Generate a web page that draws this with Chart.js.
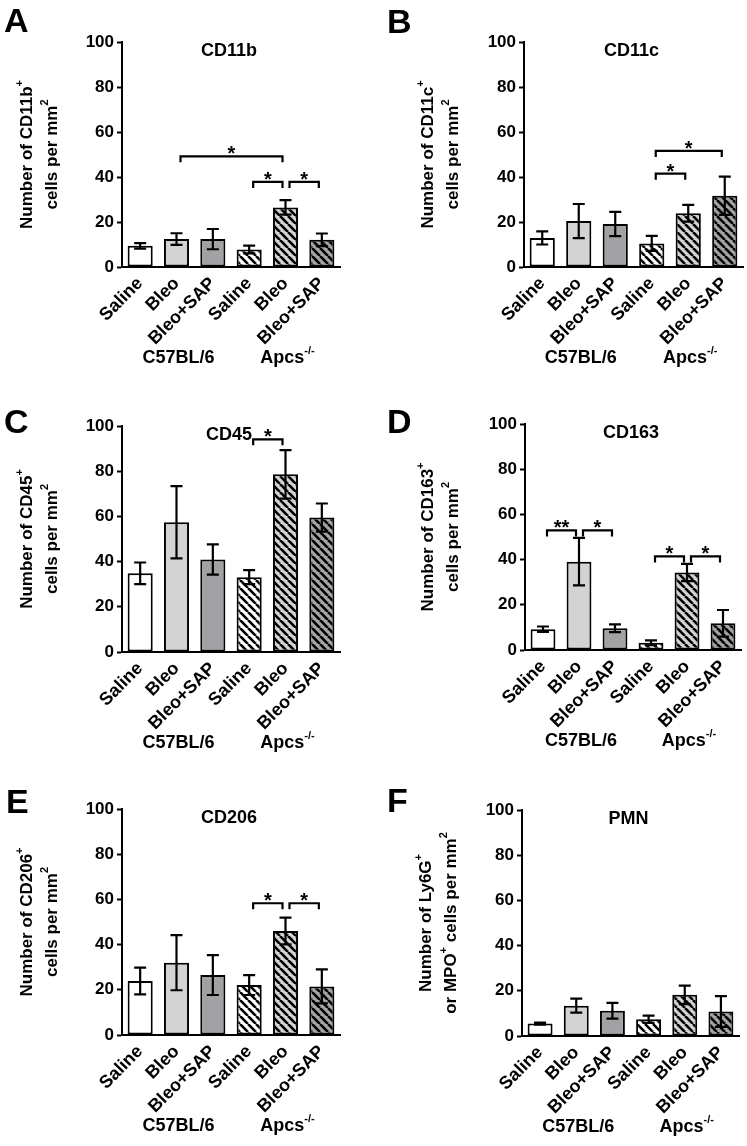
<!DOCTYPE html>
<html><head><meta charset="utf-8">
<script src="https://cdn.jsdelivr.net/npm/chart.js@4.4.1/dist/chart.umd.min.js"></script>
<style>
html,body{margin:0;padding:0;background:#fff;}
#wrap{position:relative;width:747px;height:1146px;overflow:hidden;background:#fff;}
canvas{position:absolute;}
</style></head><body><div id="wrap"></div>
<script>
// ---------- data ----------
const categories = ['Saline', 'Bleo', 'Bleo+SAP', 'Saline', 'Bleo', 'Bleo+SAP'];
const groupLabels = ['C57BL/6', 'Apcs'];
const groupSup = ['', '-/-'];
const yTicks = [0, 20, 40, 60, 80, 100];

const cd11bMean = [9.4, 12.4, 12.4, 7.8, 26.5, 12.1];
const cd11bSem  = [1.2, 2.6, 4.5, 1.7, 3.2, 2.8];
const cd11bSig  = [[1, 4, 49.2, '*'], [3, 4, 37.8, '*'], [4, 5, 37.8, '*']];

const cd11cMean = [12.9, 20.4, 19.1, 10.5, 23.9, 31.7];
const cd11cSem  = [2.9, 7.6, 5.4, 3.3, 3.7, 8.5];
const cd11cSig  = [[3, 5, 51.6, '*'], [3, 4, 41.5, '*']];

const cd45Mean = [34.8, 57.4, 40.9, 33.1, 78.6, 59.5];
const cd45Sem  = [4.8, 16.0, 6.7, 3.1, 10.7, 6.2];
const cd45Sig  = [[3, 4, 94.1, '*']];

const cd163Mean = [9.2, 39.1, 9.6, 3.2, 34.3, 11.8];
const cd163Sem  = [1.2, 10.5, 1.7, 1.1, 3.8, 5.9];
const cd163Sig  = [[0, 1, 52.9, '**'], [1, 2, 52.9, '*'], [3, 4, 41.4, '*'], [4, 5, 41.4, '*']];

const cd206Mean = [23.9, 32.0, 26.5, 22.1, 46.0, 21.5];
const cd206Sem  = [5.9, 12.2, 8.8, 4.4, 5.9, 7.5];
const cd206Sig  = [[3, 4, 58.3, '*'], [4, 5, 58.3, '*']];

const pmnMean = [5.5, 13.4, 11.2, 7.4, 18.2, 10.8];
const pmnSem  = [0.45, 3.1, 3.5, 1.6, 4.1, 6.8];
const pmnSig  = [];

// ---------- styling ----------
const FONT = '"Liberation Sans", Arial, Helvetica, sans-serif';
Chart.defaults.font.family = FONT;
Chart.defaults.color = '#000';

function hatch(bg) {
  const s = 8;
  const c = document.createElement('canvas');
  c.width = s; c.height = s;
  const g = c.getContext('2d');
  g.fillStyle = bg; g.fillRect(0, 0, s, s);
  g.strokeStyle = '#000'; g.lineWidth = 2.6;
  for (const k of [-1, 0, 1]) {
    g.beginPath(); g.moveTo(k * s, 0); g.lineTo(k * s + s, s); g.stroke();
  }
  return g.createPattern(c, 'repeat');
}
const fills = ['#ffffff', '#d3d3d3', '#a2a2a4', hatch('#ffffff'), hatch('#d3d3d3'), hatch('#a2a2a4')];

const panels = [
  {letter: 'A', title: 'CD11b', mean: cd11bMean, sem: cd11bSem, sig: cd11bSig,
   yTitle: [[['Number of CD11b', 0], ['+', 1]], [['cells per mm', 0], ['2', 1]]],
   box: [0, 0, 373, 380], plot: {left: 122, top: 42, bottom: 267, right: 340}, ytx: [27, 52], lp: [4, 32]},
  {letter: 'B', title: 'CD11c', mean: cd11cMean, sem: cd11cSem, sig: cd11cSig,
   yTitle: [[['Number of CD11c', 0], ['+', 1]], [['cells per mm', 0], ['2', 1]]],
   box: [373, 0, 374, 380], plot: {left: 151, top: 42, bottom: 267, right: 370}, ytx: [55, 80], lp: [14, 33]},
  {letter: 'C', title: 'CD45', mean: cd45Mean, sem: cd45Sem, sig: cd45Sig,
   yTitle: [[['Number of CD45', 0], ['+', 1]], [['cells per mm', 0], ['2', 1]]],
   box: [0, 380, 373, 380], plot: {left: 122, top: 46, bottom: 272, right: 340}, ytx: [27, 52], lp: [4, 53]},
  {letter: 'D', title: 'CD163', mean: cd163Mean, sem: cd163Sem, sig: cd163Sig,
   yTitle: [[['Number of CD163', 0], ['+', 1]], [['cells per mm', 0], ['2', 1]]],
   box: [373, 380, 374, 380], plot: {left: 152, top: 44, bottom: 270, right: 368}, ytx: [55, 80], lp: [14, 53]},
  {letter: 'E', title: 'CD206', mean: cd206Mean, sem: cd206Sem, sig: cd206Sig,
   yTitle: [[['Number of CD206', 0], ['+', 1]], [['cells per mm', 0], ['2', 1]]],
   box: [0, 760, 373, 386], plot: {left: 122, top: 49, bottom: 275, right: 340}, ytx: [27, 52], lp: [6, 53]},
  {letter: 'F', title: 'PMN', mean: pmnMean, sem: pmnSem, sig: pmnSig,
   yTitle: [[['Number of Ly6G', 0], ['+', 1]], [['or MPO', 0], ['+', 1], [' cells per mm', 0], ['2', 1]]],
   box: [373, 760, 374, 386], plot: {left: 149, top: 50, bottom: 276, right: 366}, ytx: [53, 78], lp: [14, 52]}
];

function richWidth(ctx, segs, size, supSize) {
  let w = 0;
  for (const [t, s] of segs) { ctx.font = 'bold ' + (s ? supSize : size) + 'px ' + FONT; w += ctx.measureText(t).width; }
  return w;
}
function drawRich(ctx, segs, cx, y, size, supSize, raise) {
  const w = richWidth(ctx, segs, size, supSize);
  let x = cx - w / 2;
  ctx.textAlign = 'left';
  for (const [t, s] of segs) {
    ctx.font = 'bold ' + (s ? supSize : size) + 'px ' + FONT;
    ctx.fillText(t, x, s ? y - raise : y);
    x += ctx.measureText(t).width;
  }
}

function decor(p) {
  return {
    id: 'decor' + p.letter,
    afterDatasetsDraw(chart) {
      const ctx = chart.ctx, ys = chart.scales.y;
      const meta = chart.getDatasetMeta(0);
      ctx.save();
      ctx.strokeStyle = '#000'; ctx.lineWidth = 2.2; ctx.lineCap = 'butt';
      p.mean.forEach((m, i) => {
        const x = meta.data[i].x;
        const yHi = ys.getPixelForValue(m + p.sem[i]);
        const yLo = ys.getPixelForValue(m - p.sem[i]);
        ctx.beginPath();
        ctx.moveTo(x, yHi); ctx.lineTo(x, yLo);
        ctx.moveTo(x - 6, yHi); ctx.lineTo(x + 6, yHi);
        ctx.moveTo(x - 6, yLo); ctx.lineTo(x + 6, yLo);
        ctx.stroke();
      });
      ctx.restore();
    },
    afterDraw(chart) {
      const ctx = chart.ctx, xs = chart.scales.x, ys = chart.scales.y, ca = chart.chartArea;
      ctx.save();
      ctx.fillStyle = '#000'; ctx.strokeStyle = '#000'; ctx.lineWidth = 2.2;
      // significance brackets
      for (const [a, b, v, lab] of p.sig) {
        const xa = xs.getPixelForValue(a) + 4, xb = xs.getPixelForValue(b) - 3;
        const y = ys.getPixelForValue(v);
        ctx.beginPath();
        ctx.moveTo(xa, y + 6); ctx.lineTo(xa, y); ctx.lineTo(xb, y); ctx.lineTo(xb, y + 6);
        ctx.stroke();
        ctx.font = 'bold 20px ' + FONT; ctx.textAlign = 'center'; ctx.textBaseline = 'alphabetic';
        ctx.fillText(lab, (xa + xb) / 2, y + 4);
      }
      // panel title
      ctx.font = 'bold 18px ' + FONT; ctx.textAlign = 'center'; ctx.textBaseline = 'middle';
      ctx.fillText(p.title, (ca.left + ca.right) / 2 - 2, ca.top + 9);
      // group labels
      ctx.textBaseline = 'middle';
      for (let g = 0; g < 2; g++) {
        const cx = (xs.getPixelForValue(g * 3) + xs.getPixelForValue(g * 3 + 2)) / 2;
        const segs = [[groupLabels[g], 0]];
        if (groupSup[g]) segs.push([groupSup[g], 1]);
        drawRich(ctx, segs, cx + 2, ca.bottom + 91, 18, 11, 7);
      }
      // y-axis title
      const cy = (ca.top + ca.bottom) / 2;
      p.yTitle.forEach((segs, li) => {
        ctx.save();
        ctx.translate(p.ytx[li], cy);
        ctx.rotate(-Math.PI / 2);
        ctx.textBaseline = 'middle';
        drawRich(ctx, segs, 0, 0, 17, 11, 7);
        ctx.restore();
      });
      // panel letter
      ctx.font = 'bold 34px ' + FONT; ctx.textAlign = 'left'; ctx.textBaseline = 'alphabetic';
      ctx.fillText(p.letter, p.lp[0], p.lp[1]);
      ctx.restore();
    }
  };
}

const wrap = document.getElementById('wrap');
panels.forEach(p => {
  const [L, T, W, H] = p.box;
  const c = document.createElement('canvas');
  c.width = W; c.height = H;
  c.style.left = L + 'px'; c.style.top = T + 'px';
  c.style.width = W + 'px'; c.style.height = H + 'px';
  wrap.appendChild(c);
  new Chart(c, {
    type: 'bar',
    data: {
      labels: categories,
      datasets: [{
        data: p.mean, backgroundColor: fills, borderColor: '#000', borderWidth: 2,
        borderSkipped: false, barPercentage: 0.69, categoryPercentage: 1
      }]
    },
    options: {
      responsive: false, animation: false, devicePixelRatio: 1,
      layout: {padding: {left: 0, top: p.plot.top, right: W - p.plot.right, bottom: 0}},
      plugins: {legend: {display: false}, tooltip: {enabled: false}, title: {display: false}},
      scales: {
        x: {
          type: 'category', offset: true,
          grid: {display: false, drawTicks: false},
          border: {display: true, color: '#000', width: 2},
          ticks: {autoSkip: false, maxRotation: 45, minRotation: 45, padding: 6, color: '#000',
                  font: {size: 18, weight: 'bold', family: FONT}},
          afterFit(s) { s.height = H - p.plot.bottom; }
        },
        y: {
          min: 0, max: 100,
          afterBuildTicks(s) { s.ticks = yTicks.map(v => ({value: v})); },
          ticks: {color: '#000', padding: 3, font: {size: 17, weight: 'bold', family: FONT}},
          grid: {display: true, drawOnChartArea: false, drawTicks: true, tickLength: 5, tickWidth: 2, tickColor: '#000'},
          border: {display: true, color: '#000', width: 2},
          afterFit(s) { s.width = p.plot.left; }
        }
      }
    },
    plugins: [decor(p)]
  });
});
</script></body></html>
